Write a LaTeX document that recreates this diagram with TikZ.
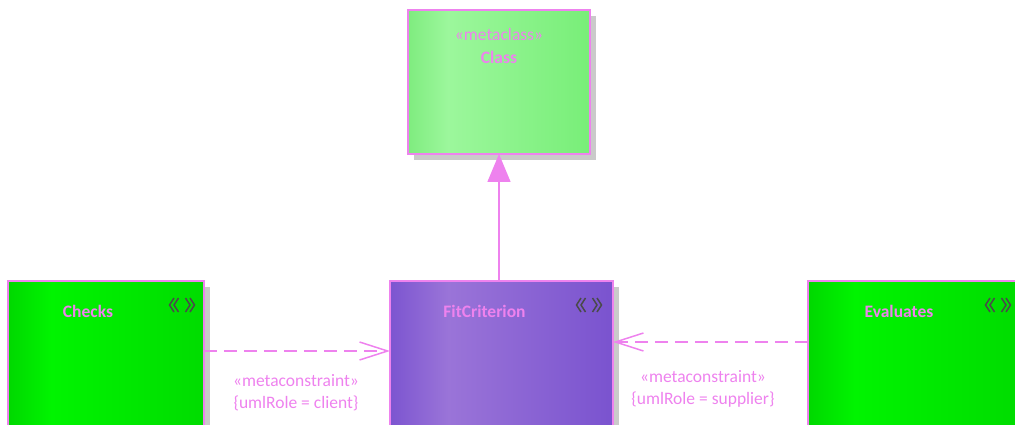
\documentclass[tikz,border=0pt]{standalone}
\usepackage{fontspec}
\setmainfont{Carlito}
\usetikzlibrary{arrows.meta,shadows,positioning,calc}

% Define colours
\definecolor{edgeColour}{HTML}{EE82EE}
\definecolor{iconColour}{HTML}{4A4A4A}
\definecolor{shadowColour}{HTML}{CACACA}
\definecolor{classDark}{HTML}{7FEC7F}
\definecolor{classLight}{HTML}{9CF79C}
\definecolor{classRight}{HTML}{78EE78}
\definecolor{greenDark}{HTML}{00D800}
\definecolor{greenLight}{HTML}{00F400}
\definecolor{greenRight}{HTML}{00DC00}
\definecolor{purpleDark}{HTML}{7C55D0}
\definecolor{purpleLight}{HTML}{9A74D8}
\definecolor{purpleRight}{HTML}{7A53CF}

% Define box shadings (path maps onto 25bp--75bp)
\pgfdeclarehorizontalshading{classShade}{100bp}{color(0bp)=(classDark); color(25bp)=(classDark); color(36bp)=(classLight); color(75bp)=(classRight); color(100bp)=(classRight)}
\pgfdeclarehorizontalshading{greenShade}{100bp}{color(0bp)=(greenDark); color(25bp)=(greenDark); color(36bp)=(greenLight); color(75bp)=(greenRight); color(100bp)=(greenRight)}
\pgfdeclarehorizontalshading{purpleShade}{100bp}{color(0bp)=(purpleDark); color(25bp)=(purpleDark); color(38bp)=(purpleLight); color(75bp)=(purpleRight); color(100bp)=(purpleRight)}

\tikzset{
    umlbox/.style={draw=edgeColour, line width=1.5pt, inner sep=0pt, outer sep=0pt,
        drop shadow={shadow xshift=6pt, shadow yshift=-6pt, fill=shadowColour, opacity=1}},
    stereo/.style={text=edgeColour, font=\fontsize{17.5pt}{20pt}\selectfont, inner sep=0pt},
    boxname/.style={text=edgeColour, font=\fontsize{17.5pt}{20pt}\selectfont\bfseries, inner sep=0pt},
    depline/.style={draw=edgeColour, line width=1.5pt, dash pattern=on 13pt off 7pt,
        -{Straight Barb[length=28pt, width=18pt, line width=1.5pt]}},
    genline/.style={draw=edgeColour, line width=1.5pt,
        -{Triangle[length=28pt, width=23pt, fill=edgeColour]}},
    elemicon/.pic={
        \draw[iconColour, line width=1.5pt]
            (-8,-7) -- (-12.5,0) -- (-8,7)
            (-3.5,-7) -- (-8,0) -- (-3.5,7)
            (3.5,-7) -- (8,0) -- (3.5,7)
            (8,-7) -- (12.5,0) -- (8,7);
    }
}

\begin{document}
\begin{tikzpicture}[x=1pt, y=-1pt]
    % Fix the frame
    \useasboundingbox (0,0) rectangle (1015,425);
    \clip (0,0) rectangle (1015,425);

    % Draw the boxes
    \node[umlbox, shading=classShade, minimum width=182pt, minimum height=144pt] (class) at (499,82) {};
    \node[umlbox, shading=purpleShade, minimum width=223pt, minimum height=160pt] (fit) at (501.5,361) {};
    \node[umlbox, shading=greenShade, minimum width=196pt, minimum height=160pt] (checks) at (106,361) {};
    \node[umlbox, shading=greenShade, minimum width=212pt, minimum height=160pt] (evals) at (914,361) {};

    % Label the boxes
    \node[stereo] (classStereo) at ($(class.north)+(0,24)$) {«metaclass»};
    \node[boxname] (className) at ($(class.north)+(0,47)$) {Class};
    \node[boxname] (fitName) at ($(fit.north)+(-17,30)$) {FitCriterion};
    \node[boxname] (checksName) at ($(checks.north)+(-18,30)$) {Checks};
    \node[boxname] (evalsName) at ($(evals.north)+(-15,30)$) {Evaluates};

    % Element icons
    \pic at ($(fit.north east)+(-24,24)$) {elemicon};
    \pic at ($(checks.north east)+(-22,24)$) {elemicon};
    \pic at ($(evals.north east)+(-22,24)$) {elemicon};

    % Draw the connectors
    \draw[genline] (fit.north -| class.south) -- (class.south);
    \draw[depline] ([yshift=10pt]checks.east) -- ([yshift=10pt]fit.west);
    \draw[depline] ([yshift=19pt]evals.west) -- ([yshift=19pt]fit.east);

    % Label the connectors
    \node[stereo] (leftStereo) at (296,381) {«metaconstraint»};
    \node[stereo] (leftRole) at (296,403) {\{umlRole = client\}};
    \node[stereo] (rightStereo) at (703,377) {«metaconstraint»};
    \node[stereo] (rightRole) at (703,400) {\{umlRole = supplier\}};

\end{tikzpicture}
\end{document}
